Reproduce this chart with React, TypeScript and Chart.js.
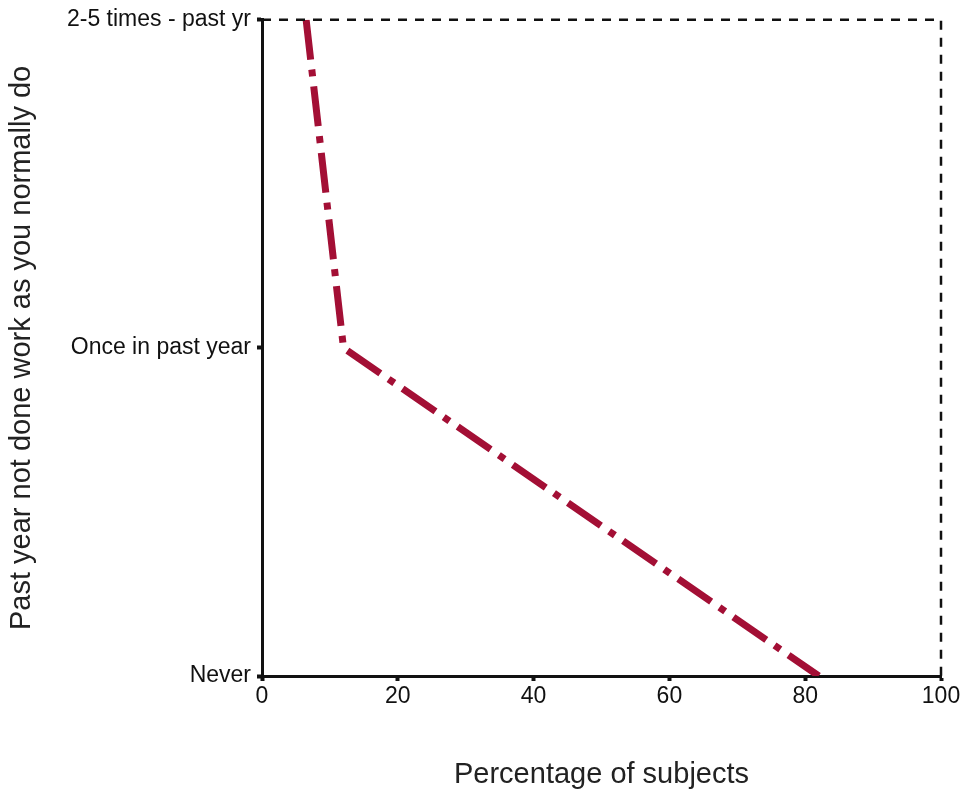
import React, { useEffect, useRef } from "react";
import { Chart, registerables } from "chart.js";

Chart.register(...registerables);

const categories = ["Never", "Once in past year", "2-5 times - past yr"];
const percentages = [82, 12, 6.5];
const xTicks = [0, 20, 40, 60, 80, 100];
const xTitle = "Percentage of subjects";
const yTitle = "Past year not done work as you normally do";

const dashedFrame = {
  id: "dashedFrame",
  afterDraw(chart: any) {
    const { ctx, chartArea } = chart;
    ctx.save();
    ctx.strokeStyle = "#111";
    ctx.lineWidth = 2.5;
    ctx.setLineDash([9, 8]);
    ctx.beginPath();
    ctx.moveTo(chartArea.left, chartArea.top);
    ctx.lineTo(chartArea.right, chartArea.top);
    ctx.lineTo(chartArea.right, chartArea.bottom);
    ctx.stroke();
    ctx.restore();
  },
};

const FONT = "Arial, 'Liberation Sans', sans-serif";

export default function App() {
  const ref = useRef<HTMLCanvasElement>(null);
  useEffect(() => {
    const points = percentages.map((p, i) => ({ x: p, y: i })).reverse();
    const chart = new Chart(ref.current!, {
      type: "line",
      data: {
        datasets: [
          {
            data: points,
            borderColor: "#a30f35",
            borderWidth: 7,
            borderDash: [40, 10, 7, 10],
            borderCapStyle: "butt",
            pointRadius: 0,
            tension: 0,
            fill: false,
          },
        ],
      },
      plugins: [dashedFrame],
      options: {
        animation: false,
        responsive: false,
        maintainAspectRatio: false,
        layout: { padding: { top: 18, right: 25, left: 0, bottom: 0 } },
        plugins: { legend: { display: false }, tooltip: { enabled: false } },
        scales: {
          x: {
            type: "linear",
            min: 0,
            max: 100,
            afterBuildTicks: (s: any) => {
              s.ticks = xTicks.map((v) => ({ value: v }));
            },
            afterFit: (s: any) => {
              s.height = 117;
            },
            grid: {
              drawOnChartArea: false,
              drawTicks: true,
              tickLength: 5,
              tickWidth: 4,
              tickColor: "#111",
            },
            border: { display: true, color: "#111", width: 3 },
            ticks: {
              color: "#111",
              padding: 2,
              font: { family: FONT, size: 23 },
            },
            title: {
              display: true,
              text: xTitle,
              color: "#222",
              padding: { top: 0, bottom: 1 },
              font: { family: FONT, size: 29 },
            },
          },
          y: {
            type: "linear",
            min: 0,
            max: 2,
            afterBuildTicks: (s: any) => {
              s.ticks = categories.map((_, i) => ({ value: i }));
            },
            afterFit: (s: any) => {
              s.width = 262;
            },
            grid: {
              drawOnChartArea: false,
              drawTicks: true,
              tickLength: 5,
              tickWidth: 4,
              tickColor: "#111",
            },
            border: { display: true, color: "#111", width: 3 },
            ticks: {
              color: "#111",
              padding: 6,
              font: { family: FONT, size: 23 },
              callback: (v: any) => categories[v as number],
            },
            title: {
              display: true,
              text: yTitle,
              color: "#222",
              padding: { top: 5, bottom: 0 },
              font: { family: FONT, size: 29 },
            },
          },
        },
      },
    });
    return () => chart.destroy();
  }, []);
  return (
    <div style={{ position: "fixed", left: 0, top: 0, width: 966, height: 793, background: "#fff" }}>
      <canvas ref={ref} width={966} height={793} />
    </div>
  );
}
